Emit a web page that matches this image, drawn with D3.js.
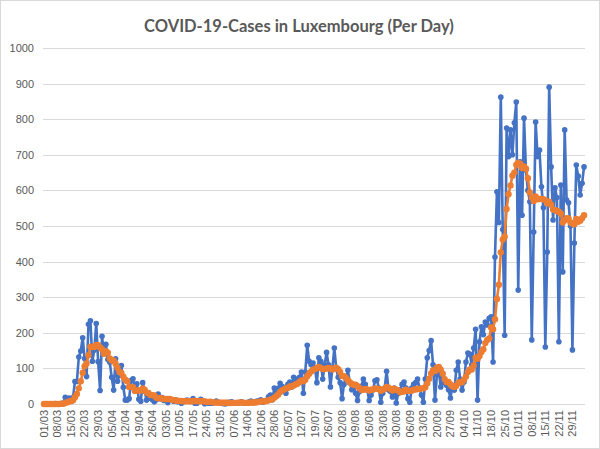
<!DOCTYPE html>
<html>
<head>
<meta charset="utf-8">
<script src="https://cdn.jsdelivr.net/npm/d3@7/dist/d3.min.js"></script>
<style>
	body { margin: 0; background: #fff; }
	svg { display: block; }
</style>
</head>
<body>
<div id="root"></div>
<script>
const TITLE = "COVID-19-Cases in Luxembourg (Per Day)"
const FIRST_DAY = "2020-03-01"

// new cases per day, 01/03 .. 05/12
const dailyCases = [
	0,0,0,0,0,0,1,0,0,2,2,19,8,17,8,18,63,63,132,149,186,128,77,224,234,120,152,226,119,38,190,
	141,168,125,117,75,39,127,64,81,108,47,11,11,15,66,71,36,57,13,8,60,36,11,30,16,12,6,12,28,15,
	18,10,12,4,12,11,8,12,6,9,2,6,10,11,8,7,15,2,2,9,13,9,1,7,2,3,2,5,8,4,4,
	2,1,1,4,5,6,3,3,2,4,6,3,2,2,6,8,4,6,8,8,12,5,10,9,20,25,12,45,33,44,
	58,50,45,30,55,62,48,75,70,60,75,90,30,90,165,120,110,115,100,60,130,120,70,110,145,110,48,100,157,100,75,
	60,15,55,70,95,60,40,45,30,10,35,50,70,55,40,10,25,40,65,68,45,5,30,45,92,40,35,20,45,3,30,
	40,55,62,45,15,5,45,55,60,70,45,25,5,70,130,150,178,110,11,82,90,48,75,60,53,40,17,50,39,95,
	118,70,39,62,118,143,140,110,157,210,11,175,217,195,230,222,241,245,118,413,596,510,862,490,193,775,695,770,700,790,848,
	320,680,530,803,657,600,568,180,483,792,695,713,610,551,160,427,890,666,517,607,580,175,615,371,770,573,565,500,152,452,
	671,640,587,620,666
]

// 7-day average as plotted in the orange series
const weekAverage = [
	0,0,0,0,0,0,0.1,0.1,0.1,0.4,0.7,3.4,4.6,6.9,8,10.6,19.3,28,44,64,88,106,114,137,161,160,160,166,165,159,154,
	141,148,144,128,122,122,113,102,90,87,77,68,64,48,48,47,37,38,38,38,44,40,32,31,25,25,24,18,16,17,
	15,14,14,14,14,12,11,9.9,9.3,8.9,8.6,7.7,7.6,8,7.4,7.6,8.4,8.4,7.9,7.7,8,8.1,7.3,6.1,6.1,6.3,5.3,4.1,4,4.4,4,
	4,3.7,3.6,3.4,3,3.3,3.1,3.3,3.4,3.9,4.1,3.9,3.3,3.1,3.6,4.4,4.4,4.4,5.1,6,7.4,7.3,7.6,8.3,10.3,12.7,13.3,18,22,27,
	34,38,41,44,45,49,50,52,55,57,62,66,64,68,78,85,91,96,98,101,104,101,98,98,100,101,100,97,100,102,98,
	90,79,78,74,67,61,56,54,54,50,45,39,40,42,41,38,40,41,44,43,42,37,40,43,48,46,42,38,43,40,38,
	33,34,36,40,37,37,38,40,41,42,42,44,44,47,58,71,86,95,93,102,104,96,85,70,62,62,55,50,48,51,
	59,61,61,68,77,90,97,97,108,130,127,135,146,154,171,180,184,215,210,238,295,335,426,462,470,548,589,614,641,650,672,
	678,675,663,667,661,634,594,580,570,583,575,576,577,575,572,564,568,560,546,545,542,540,535,510,516,522,521,510,507,505,
	520,512,515,522,530
]

const yTicks = [0,100,200,300,400,500,600,700,800,900,1000]

const xTickLabels = ["01/03","08/03","15/03","22/03","29/03","05/04","12/04","19/04","26/04","03/05",
	"10/05","17/05","24/05","31/05","07/06","14/06","21/06","28/06","05/07","12/07",
	"19/07","26/07","02/08","09/08","16/08","23/08","30/08","06/09","13/09","20/09",
	"27/09","04/10","11/10","18/10","25/10","01/11","08/11","15/11","22/11","29/11"]

const BLUE = "#4472C4",
	ORANGE = "#ED7D31",
	GRID = "#d9d9d9",
	TEXT = "#595959",
	FONT = '"Liberation Sans", Arial, sans-serif'

const width = 600,
	height = 449

const start = d3.utcParse("%Y-%m-%d")(FIRST_DAY),
	fmt = d3.utcFormat("%d/%m"),
	categories = dailyCases.map((d, i) => fmt(d3.utcDay.offset(start, i)))

const svg = d3.select('#root')
	.append('svg')
	.attr('width', width)
	.attr('height', height)

svg.append('rect')
	.attr('x', 0.5).attr('y', 0.5)
	.attr('width', width - 1).attr('height', height - 1)
	.attr('fill', '#fff')
	.attr('stroke', GRID)

const x = d3.scaleBand()
	.domain(categories)
	.range([43, 585])

const y = d3.scaleLinear()
	.domain([0, 1000])
	.range([404, 48])

const cx = (d, i) => x(categories[i]) + x.bandwidth() / 2

// gridlines
svg.append('g')
	.selectAll('line')
	.data(yTicks)
	.enter().append('line')
	.attr('x1', 43).attr('x2', 585)
	.attr('y1', d => Math.round(y(d)) + 0.5)
	.attr('y2', d => Math.round(y(d)) + 0.5)
	.attr('stroke', GRID)
	.attr('stroke-width', 1)

// y axis
const yAxis = svg.append('g')
	.attr('transform', 'translate(36,0)')
	.call(d3.axisLeft(y).tickValues(yTicks).tickFormat(d3.format('d')).tickSize(0).tickPadding(2))
yAxis.select('.domain').remove()
yAxis.selectAll('text')
	.attr('fill', TEXT)
	.style('font-family', FONT)
	.style('font-size', '11px')

// x axis
const xAxis = svg.append('g')
	.attr('transform', 'translate(0,404)')
	.call(d3.axisBottom(x).tickValues(xTickLabels).tickSize(0))
xAxis.select('.domain').remove()
xAxis.selectAll('text')
	.attr('transform', 'rotate(-90)')
	.attr('x', -6)
	.attr('y', 0)
	.attr('dy', '0.35em')
	.style('text-anchor', 'end')
	.style('font-family', FONT)
	.style('font-size', '11px')
	.attr('fill', TEXT)

function drawSeries(values, color, r) {
	const line = d3.line()
		.x((d, i) => cx(d, i))
		.y(d => y(d))

	const g = svg.append('g')

	g.append('path')
		.attr('d', line(values))
		.attr('fill', 'none')
		.attr('stroke', color)
		.attr('stroke-width', 2.6)
		.attr('stroke-linejoin', 'round')

	g.selectAll('circle')
		.data(values)
		.enter().append('circle')
		.attr('cx', cx)
		.attr('cy', d => y(d))
		.attr('r', r)
		.attr('fill', color)
}

drawSeries(dailyCases, BLUE, 2.8)
drawSeries(weekAverage, ORANGE, 3.2)

svg.append('text')
	.attr('x', 299)
	.attr('y', 32)
	.attr('text-anchor', 'middle')
	.attr('fill', TEXT)
	.style('font-family', 'Lato, "Open Sans", sans-serif')
	.style('font-weight', 'bold')
	.style('font-size', '16.5px')
	.text(TITLE)
</script>
</body>
</html>
